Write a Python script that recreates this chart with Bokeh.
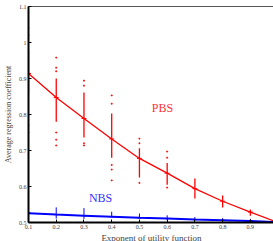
from bokeh.plotting import figure
from bokeh.models import Range1d, FixedTicker, LinearAxis, ColumnDataSource
from bokeh.core.properties import value
from bokeh.embed import file_html
from bokeh.resources import INLINE

# ---- data ----
exponents = [0.1, 0.2, 0.3, 0.4, 0.5, 0.6, 0.7, 0.8, 0.9, 1.0]
pbs_mean = [0.914, 0.847, 0.789, 0.732, 0.678, 0.637, 0.594, 0.559, 0.529, 0.500]
nbs_mean = [0.526, 0.522, 0.519, 0.516, 0.513, 0.511, 0.508, 0.506, 0.504, 0.501]

spread_x = [0.1, 0.2, 0.3, 0.4, 0.5, 0.6, 0.7, 0.8, 0.9]
pbs_low = [0.860, 0.780, 0.736, 0.680, 0.625, 0.605, 0.567, 0.542, 0.519]
pbs_high = [0.980, 0.900, 0.861, 0.803, 0.706, 0.665, 0.622, 0.575, 0.536]
nbs_low = [0.511, 0.511, 0.510, 0.515, 0.514, 0.506, 0.505, 0.503, 0.502]
nbs_high = [0.547, 0.542, 0.540, 0.530, 0.525, 0.520, 0.515, 0.512, 0.510]

pbs_outlier_x = [0.1, 0.1, 0.1, 0.1, 0.1,
                 0.2, 0.2, 0.2, 0.2, 0.2, 0.2,
                 0.3, 0.3, 0.3, 0.3,
                 0.4, 0.4, 0.4, 0.4, 0.4,
                 0.5, 0.5, 0.5,
                 0.6, 0.6, 0.6]
pbs_outlier_y = [1.040, 1.020, 0.800, 0.770, 0.750,
                 0.958, 0.930, 0.920, 0.750, 0.730, 0.714,
                 0.894, 0.880, 0.720, 0.714,
                 0.853, 0.830, 0.660, 0.647, 0.617,
                 0.733, 0.720, 0.610,
                 0.697, 0.680, 0.597]

x_ticks = [0.1, 0.2, 0.3, 0.4, 0.5, 0.6, 0.7, 0.8, 0.9]
y_ticks = [0.5, 0.6, 0.7, 0.8, 0.9, 1.0, 1.1]

label_x = [0.583, 0.36]
label_y = [0.817, 0.567]
label_text = ["PBS", "NBS"]

SERIF = "Liberation Serif"

p = figure(frame_width=246, frame_height=216, output_backend="svg", toolbar_location=None,
           x_range=Range1d(0.1, 0.987), y_range=Range1d(0.5, 1.1),
           min_border_left=27, min_border_right=0, min_border_top=6,
           min_border_bottom=19, x_axis_type=None, y_axis_type=None)
p.grid.visible = False
p.outline_line_color = "#555555"
p.outline_line_width = 1

# axes
xa = LinearAxis(ticker=FixedTicker(ticks=x_ticks), axis_label="Exponent of utility function")
ya = LinearAxis(ticker=FixedTicker(ticks=y_ticks), axis_label="Average regression coefficient")
ya.major_label_overrides = {1.0: "1"}
for ax in (xa, ya):
    ax.axis_line_width = 2
    ax.axis_line_color = "black"
    ax.major_tick_in = 3
    ax.major_tick_out = 0
    ax.minor_tick_line_color = None
    ax.major_label_text_font = SERIF
    ax.major_label_text_font_size = "6px"
    ax.major_label_standoff = 2
    ax.axis_label_text_font = SERIF
    ax.axis_label_text_font_style = "normal"
    ax.axis_label_text_color = "#444444"
    ax.axis_label_standoff = 1
xa.axis_label_text_font_size = "9px"
ya.axis_label_text_font_size = "8px"
ya.axis_label_standoff = 3
p.add_layout(xa, "below")
p.add_layout(ya, "left")

# PBS
p.segment(x0=spread_x, y0=pbs_low, x1=spread_x, y1=pbs_high, line_color="red", line_width=1.3)
p.scatter(x=pbs_outlier_x, y=pbs_outlier_y, marker="square", size=1, color="red", alpha=0.8)
p.line(x=exponents, y=pbs_mean, line_color="red", line_width=1.3)
p.scatter(x=exponents, y=pbs_mean, marker="dash", size=5, line_color="red", line_width=1)

# NBS
p.segment(x0=spread_x, y0=nbs_low, x1=spread_x, y1=nbs_high, line_color="blue", line_width=1)
p.line(x=exponents, y=nbs_mean, line_color="blue", line_width=2)
p.scatter(x=exponents, y=nbs_mean, marker="dash", size=5, line_color="blue", line_width=1)

src_lbl = ColumnDataSource(dict(x=label_x, y=label_y, t=label_text, c=["#ff3333", "#3333ff"]))
p.text(x="x", y="y", text="t", text_color="c", source=src_lbl,
       text_font=value(SERIF), text_font_size="12px",
       text_align="center", text_baseline="middle")

open("out.html", "w").write(file_html(p, INLINE))
